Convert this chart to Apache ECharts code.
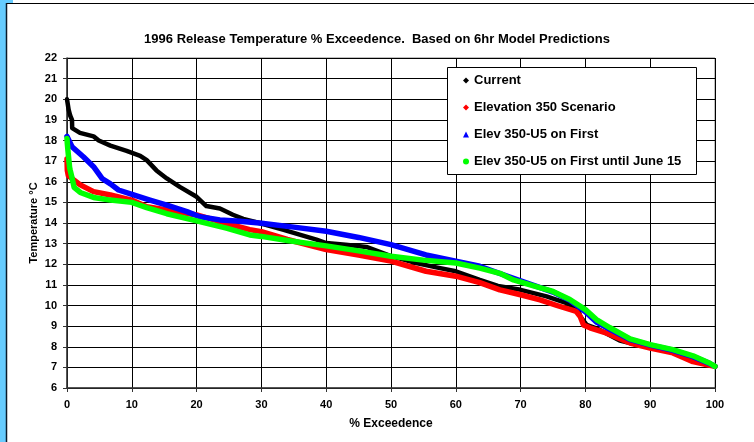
<!DOCTYPE html>
<html>
<head>
<meta charset="utf-8">
<script src="https://cdn.jsdelivr.net/npm/echarts@6/dist/echarts.min.js"></script>
<style>
  html, body { margin: 0; padding: 0; background: #fff; }
  #chart { width: 754px; height: 442px; }
</style>
</head>
<body>
<div id="chart"></div>
<script>
// Release temperature (°C) against percent exceedence, one [pct, temp] pair per point
var current = [
  [0, 20.0], [0.1, 19.8], [0.25, 19.5], [0.5, 19.2], [0.77, 19.0], [0.8, 18.6],
  [2.0, 18.37], [4.1, 18.2], [4.9, 18.0], [6.7, 17.75], [9.2, 17.5], [11.3, 17.26],
  [12.3, 17.05], [13.8, 16.55], [15.4, 16.16], [17.4, 15.75], [20, 15.27], [21.5, 14.82],
  [23.6, 14.7], [25.6, 14.4], [27.2, 14.2], [29.7, 14.0], [33.3, 13.68], [38.5, 13.19],
  [40, 13.03], [43, 12.95], [46.2, 12.84], [50, 12.4], [53.9, 12.06], [57, 11.85],
  [60, 11.66], [63.7, 11.24], [66.5, 10.95], [70, 10.76], [74, 10.44], [77.1, 10.11],
  [78.9, 9.82], [79.2, 9.47], [80.2, 9.06], [82, 8.85], [85.3, 8.3], [88, 8.1],
  [90, 7.98], [93.5, 7.72], [96.6, 7.32], [99.2, 7.12], [100, 7.05]
];
var elev350 = [
  [0, 17.1], [0.05, 16.55], [0.2, 16.3], [1.0, 16.1], [2.05, 15.85], [4.1, 15.52],
  [6.7, 15.36], [10, 15.11], [12.3, 14.79], [15.4, 14.63], [20, 14.39], [24.6, 13.98],
  [28.2, 13.68], [30, 13.58], [34, 13.2], [40, 12.71], [45, 12.45], [50, 12.15],
  [55.4, 11.66], [60, 11.42], [63.7, 11.11], [66.8, 10.76], [70, 10.52], [73, 10.27],
  [75.6, 10.0], [78.6, 9.71], [79.2, 9.47], [79.7, 9.06], [80.7, 8.92], [83.3, 8.66],
  [86.9, 8.18], [90, 7.94], [93.5, 7.7], [96.6, 7.28], [99.2, 7.1], [100, 7.05]
];
var elevU5First = [
  [0, 18.2], [0.77, 17.7], [2.56, 17.2], [4.1, 16.73], [5.4, 16.16], [6.7, 15.9],
  [7.95, 15.6], [10.26, 15.36], [12.8, 15.11], [15.4, 14.87], [18.5, 14.55], [20.5, 14.3],
  [23.6, 14.15], [26.7, 14.08], [29.7, 14.0], [35, 13.8], [40, 13.6], [45, 13.3],
  [50, 12.95], [55.4, 12.45], [60, 12.15], [63.7, 11.9], [66.8, 11.55], [70, 11.2],
  [75, 10.65], [77.6, 10.25], [80, 9.7], [81.7, 9.2], [83.8, 8.85], [86.9, 8.35],
  [90, 8.08], [93.5, 7.83], [96.6, 7.52], [99.2, 7.18], [100, 7.05]
];
var elevU5June15 = [
  [0, 18.1], [0.05, 17.85], [0.15, 17.5], [0.3, 17.0], [0.4, 16.7], [0.5, 16.55],
  [0.77, 16.2], [1.1, 15.73], [2.05, 15.48], [4.1, 15.24], [6.7, 15.11], [10, 15.0],
  [12.3, 14.75], [15.4, 14.45], [20, 14.1], [24.6, 13.75], [28.2, 13.42], [30, 13.35],
  [34, 13.15], [40, 12.89], [45, 12.65], [50, 12.39], [55, 12.2], [60, 12.06],
  [63.7, 11.81], [66.8, 11.56], [68.9, 11.24], [72, 10.95], [75, 10.68], [77.6, 10.29],
  [80, 9.8], [81.7, 9.32], [83.8, 8.92], [86.9, 8.38], [90, 8.1], [93.5, 7.86],
  [96.6, 7.56], [99.2, 7.2], [100, 7.05]
];

var seriesNames = [
  'Current',
  'Elevation 350 Scenario',
  'Elev 350-U5 on First',
  'Elev 350-U5 on First until June 15'
];
var seriesColors = ['#000000', '#ff0000', '#0000ff', '#00ff00'];
var seriesIcons = ['diamond', 'diamond', 'triangle', 'circle'];
var seriesData = [current, elev350, elevU5First, elevU5June15];

var FONT = '"Liberation Sans", Arial, sans-serif';

var chart = echarts.init(document.getElementById('chart'), null, { renderer: 'canvas' });

chart.setOption({
  animation: false,
  backgroundColor: '#ffffff',
  title: {
    text: '1996 Release Temperature % Exceedence.  Based on 6hr Model Predictions',
    left: 'center',
    top: 28,
    textStyle: { fontFamily: FONT, fontSize: 13, fontWeight: 'bold', color: '#000' }
  },
  grid: {
    left: 67, right: 39, top: 58, bottom: 54,
    show: true, borderColor: '#808080', borderWidth: 1, backgroundColor: '#ffffff'
  },
  legend: {
    orient: 'vertical',
    left: 463,
    top: 73,
    padding: 0,
    itemGap: 12,
    itemWidth: 6,
    itemHeight: 6,
    itemStyle: { borderWidth: 0 },
    z: 60,
    data: seriesNames.map(function (n, i) { return { name: n, icon: seriesIcons[i] }; }),
    textStyle: { fontFamily: FONT, fontSize: 13, fontWeight: 'bold', color: '#000', lineHeight: 15 }
  },
  xAxis: {
    type: 'value',
    min: 0, max: 100, interval: 10,
    name: '% Exceedence',
    nameLocation: 'middle',
    nameGap: 30,
    nameMoveOverlap: false,
    nameTextStyle: { fontFamily: FONT, fontSize: 12, fontWeight: 'bold', color: '#000' },
    axisLine: { show: true, onZero: false, lineStyle: { color: '#333', width: 1.5 } },
    axisTick: { show: true, inside: false, length: 4, lineStyle: { color: '#333' } },
    axisLabel: { margin: 11, fontFamily: FONT, fontSize: 11, fontWeight: 'bold', color: '#000' },
    splitLine: { show: true, lineStyle: { color: '#000', width: 1 } }
  },
  yAxis: {
    type: 'value',
    min: 6, max: 22, interval: 1,
    name: 'Temperature °C',
    nameLocation: 'middle',
    nameGap: 28,
    nameMoveOverlap: false,
    nameRotate: 90,
    nameTextStyle: { fontFamily: FONT, fontSize: 11, fontWeight: 'bold', color: '#000' },
    axisLine: { show: true, onZero: false, lineStyle: { color: '#333', width: 1.5 } },
    axisTick: { show: true, inside: false, length: 4, lineStyle: { color: '#333' } },
    axisLabel: { margin: 10, fontFamily: FONT, fontSize: 11, fontWeight: 'bold', color: '#000' },
    splitLine: { show: true, lineStyle: { color: '#000', width: 1 } }
  },
  graphic: [
    // light blue strip and dark frame edges around the chart area
    { type: 'rect', shape: { x: 0, y: 0, width: 6, height: 442 }, style: { fill: '#66ccff' }, z: 100 },
    { type: 'rect', shape: { x: 6, y: 0, width: 7, height: 3 }, style: { fill: '#66ccff' }, z: 100 },
    { type: 'line', shape: { x1: 6.5, y1: 3, x2: 6.5, y2: 442 }, style: { stroke: '#0a1a2a', lineWidth: 1.5 }, z: 100 },
    { type: 'line', shape: { x1: 7, y1: 3.5, x2: 754, y2: 3.5 }, style: { stroke: '#000', lineWidth: 1.2 }, z: 100 },
    // legend box
    { type: 'rect', shape: { x: 447.5, y: 67.5, width: 249, height: 107 },
      style: { fill: '#ffffff', stroke: '#000000', lineWidth: 1 }, z: 50 }
  ],
  series: seriesData.map(function (d, i) {
    return {
      name: seriesNames[i],
      type: 'line',
      data: d,
      showSymbol: false,
      symbol: seriesIcons[i],
      symbolSize: 5,
      color: seriesColors[i],
      itemStyle: { color: seriesColors[i] },
      lineStyle: { color: seriesColors[i], width: i === 0 ? 4.5 : 5.5, cap: 'round', join: 'round' },
      z: 2 + i
    };
  })
});
</script>
</body>
</html>
